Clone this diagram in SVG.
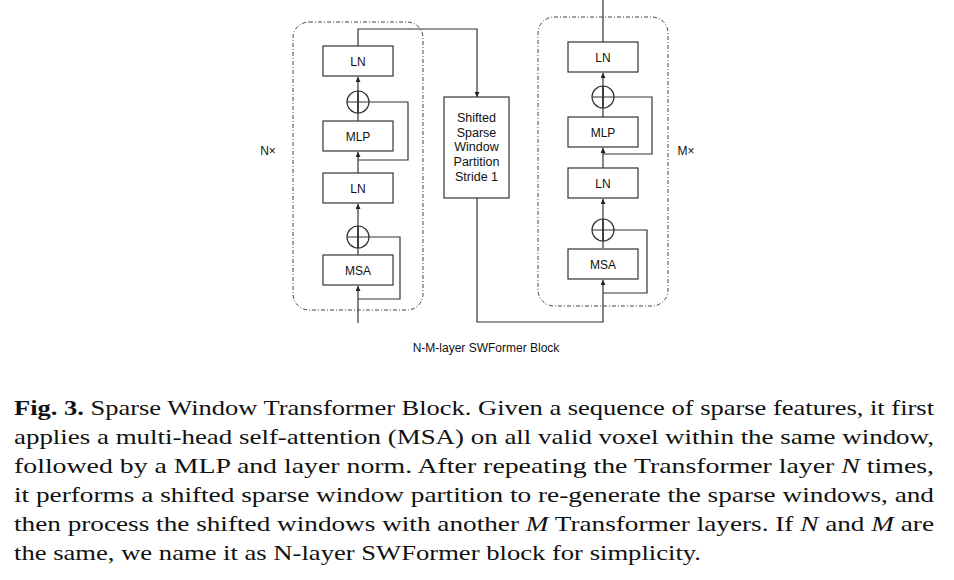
<svg xmlns="http://www.w3.org/2000/svg" width="954" height="580" viewBox="0 0 954 580">
<defs>
<marker id="ah" viewBox="0 0 6 6" refX="6" refY="3" markerWidth="5" markerHeight="5" orient="auto" markerUnits="userSpaceOnUse">
<path d="M0,0 L6,3 L0,6 z" fill="#222"/>
</marker>
<style>
.box{fill:#fff;stroke:#333;stroke-width:1.2}
.grp{fill:none;stroke:#444;stroke-width:1;stroke-dasharray:4,2,1,2}
.ln{fill:none;stroke:#333;stroke-width:1.2}
.lbl{font-family:"Liberation Sans",Arial,sans-serif;font-size:12px;fill:#111;text-anchor:middle}
.sl{font-family:"Liberation Sans",Arial,sans-serif;font-size:12.5px;fill:#111;text-anchor:middle}
.cap{font-family:"Liberation Serif","Times New Roman",serif;font-size:21px;fill:#111}
</style>
</defs>
<rect width="954" height="580" fill="#fff"/>

<g id="groupN"><rect class="grp" x="293" y="22" width="130" height="288" rx="16"/><text class="lbl" x="268" y="155">N×</text></g>
<g id="groupM"><rect class="grp" x="538" y="17" width="130" height="289" rx="16"/><text class="lbl" x="686" y="155">M×</text></g>

<g id="connectors">
<path class="ln" d="M358,323 V286" marker-end="url(#ah)"/>
<path class="ln" d="M358,299 H400 V237 H369"/>
<path class="ln" d="M358,255 V226"/>
<path class="ln" d="M358,248 V204" marker-end="url(#ah)"/>
<path class="ln" d="M358,173 V152" marker-end="url(#ah)"/>
<path class="ln" d="M358,160 H408 V102 H369"/>
<path class="ln" d="M358,121 V91"/>
<path class="ln" d="M358,113 V77" marker-end="url(#ah)"/>
<path class="ln" d="M358,46 V29 H477 V97" marker-end="url(#ah)"/>
<path class="ln" d="M477,198 V322 H603 V280" marker-end="url(#ah)"/>
<path class="ln" d="M603,293 H647 V230 H614"/>
<path class="ln" d="M603,248 V219"/>
<path class="ln" d="M603,241 V199" marker-end="url(#ah)"/>
<path class="ln" d="M603,168 V148" marker-end="url(#ah)"/>
<path class="ln" d="M603,154 H652 V97 H614"/>
<path class="ln" d="M603,117 V86"/>
<path class="ln" d="M603,108 V73" marker-end="url(#ah)"/>
<path class="ln" d="M603,42 V0"/>
</g>

<g id="ln1a"><rect class="box" x="323" y="46" width="70" height="30"/><text class="lbl" x="358" y="65.5">LN</text></g>
<g id="add1a"><circle class="ln" cx="358" cy="102" r="11" fill="#fff"/><path class="ln" d="M347,102 H369 M358,91 V113"/></g>
<g id="mlpa"><rect class="box" x="323" y="121" width="70" height="30"/><text class="lbl" x="358" y="140.5">MLP</text></g>
<g id="ln2a"><rect class="box" x="323" y="173" width="70" height="30"/><text class="lbl" x="358" y="192.5">LN</text></g>
<g id="add2a"><circle class="ln" cx="358" cy="237" r="11" fill="#fff"/><path class="ln" d="M347,237 H369 M358,226 V248"/></g>
<g id="msaa"><rect class="box" x="323" y="255" width="70" height="30"/><text class="lbl" x="358" y="274.5">MSA</text></g>

<g id="shift"><rect class="box" x="444" y="97" width="65" height="101"/>
<text class="sl" x="476.5" y="122">Shifted</text>
<text class="sl" x="476.5" y="137">Sparse</text>
<text class="sl" x="476.5" y="151">Window</text>
<text class="sl" x="476.5" y="166">Partition</text>
<text class="sl" x="476.5" y="181">Stride 1</text></g>

<g id="ln1b"><rect class="box" x="568" y="42" width="70" height="30"/><text class="lbl" x="603" y="61.5">LN</text></g>
<g id="add1b"><circle class="ln" cx="603" cy="97" r="11" fill="#fff"/><path class="ln" d="M592,97 H614 M603,86 V108"/></g>
<g id="mlpb"><rect class="box" x="568" y="117" width="70" height="30"/><text class="lbl" x="603" y="136.5">MLP</text></g>
<g id="ln2b"><rect class="box" x="568" y="168" width="70" height="30"/><text class="lbl" x="603" y="187.5">LN</text></g>
<g id="add2b"><circle class="ln" cx="603" cy="230" r="11" fill="#fff"/><path class="ln" d="M592,230 H614 M603,219 V241"/></g>
<g id="msab"><rect class="box" x="568" y="249" width="70" height="30"/><text class="lbl" x="603" y="268.5">MSA</text></g>

<text class="lbl" x="486" y="352">N-M-layer SWFormer Block</text>

<g id="caption">
<text class="cap" x="14" y="415" textLength="920" lengthAdjust="spacingAndGlyphs"><tspan font-weight="bold">Fig. 3.</tspan> Sparse Window Transformer Block. Given a sequence of sparse features, it first</text>
<text class="cap" x="14" y="444" textLength="920" lengthAdjust="spacingAndGlyphs">applies a multi-head self-attention (MSA) on all valid voxel within the same window,</text>
<text class="cap" x="14" y="473" textLength="920" lengthAdjust="spacingAndGlyphs">followed by a MLP and layer norm. After repeating the Transformer layer <tspan font-style="italic">N</tspan> times,</text>
<text class="cap" x="14" y="502" textLength="920" lengthAdjust="spacingAndGlyphs">it performs a shifted sparse window partition to re-generate the sparse windows, and</text>
<text class="cap" x="14" y="531" textLength="920" lengthAdjust="spacingAndGlyphs">then process the shifted windows with another <tspan font-style="italic">M</tspan> Transformer layers. If <tspan font-style="italic">N</tspan> and <tspan font-style="italic">M</tspan> are</text>
<text class="cap" x="14" y="560" textLength="687" lengthAdjust="spacingAndGlyphs">the same, we name it as N-layer SWFormer block for simplicity.</text>
</g>
</svg>
